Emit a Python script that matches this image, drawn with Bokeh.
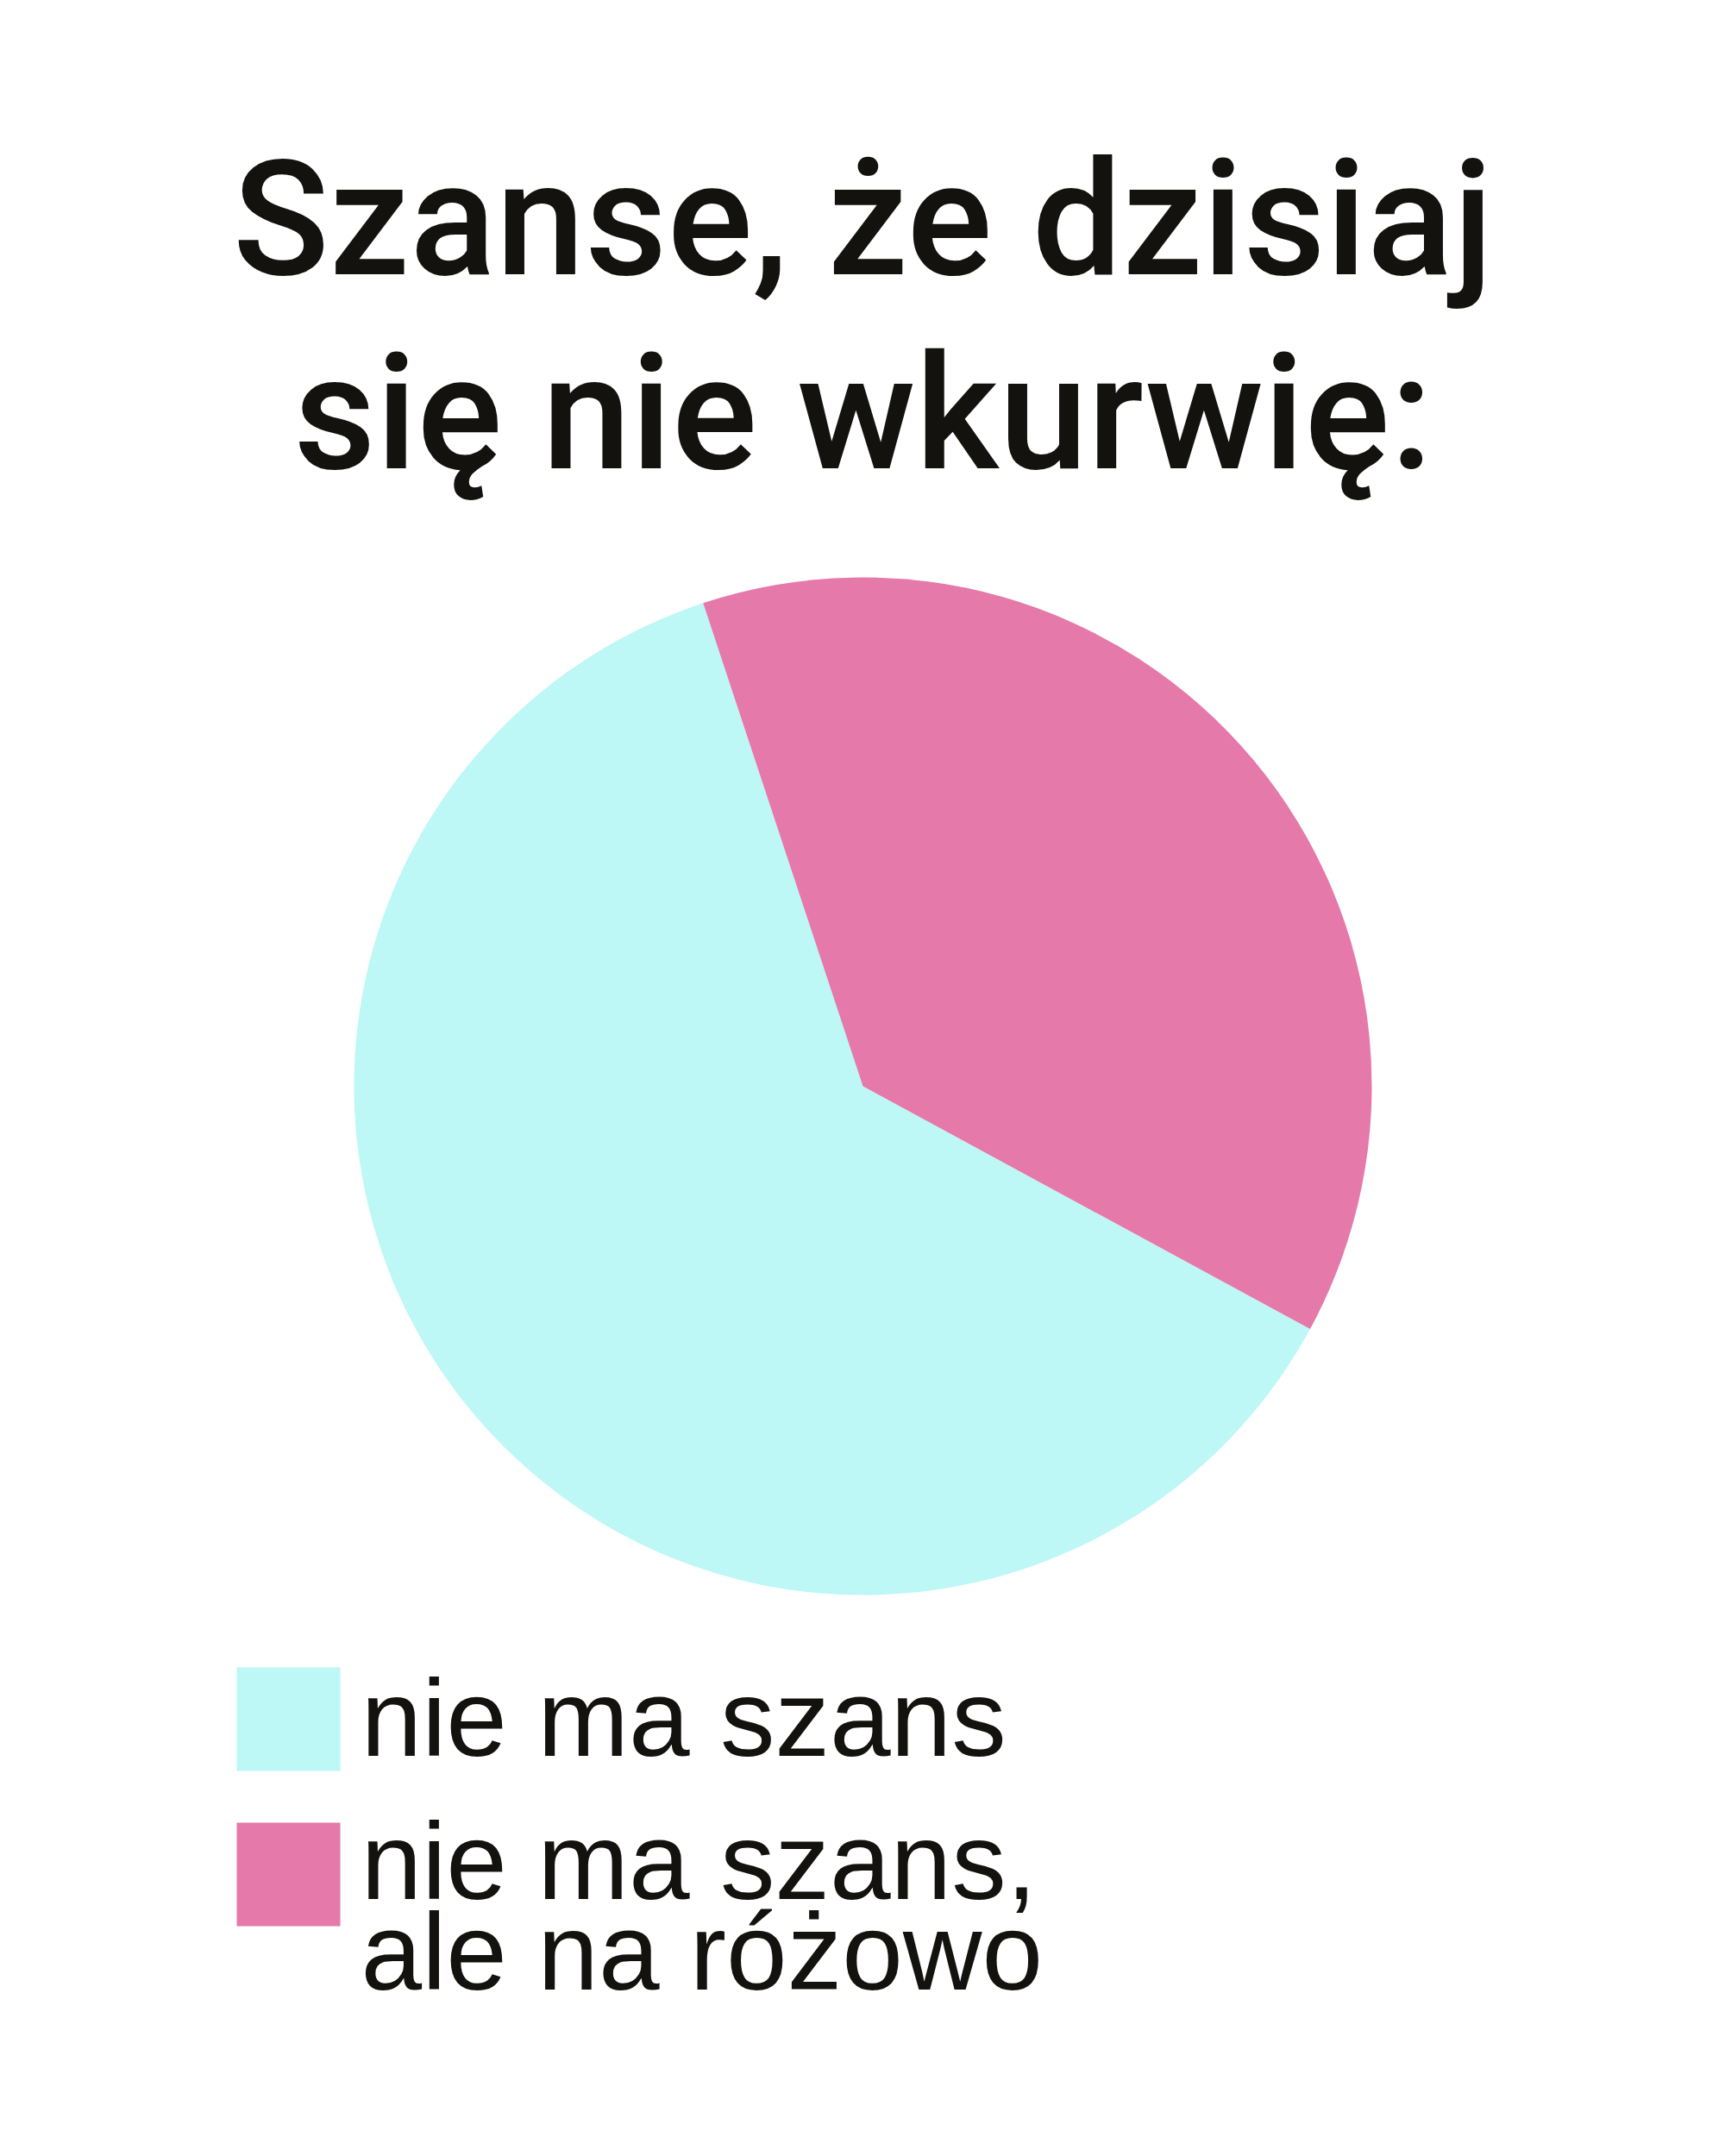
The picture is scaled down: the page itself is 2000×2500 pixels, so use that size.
import math
from bokeh.plotting import figure
from bokeh.models import Range1d, ColumnDataSource
from bokeh.core.properties import value
from bokeh.embed import file_html
from bokeh.resources import INLINE

# ---- data ----
title_lines = ["Szanse, że dzisiaj", "się nie wkurwię:"]
categories = ["nie ma szans", "nie ma szans,\nale na różowo"]
legend_lines = [["nie ma szans"], ["nie ma szans,", "ale na różowo"]]
shares = [62, 38]
colors = ["#BDF7F6", "#E479AA"]

# ---- layout (page pixel coordinates; y data = 2500 - page y) ----
W, H = 1984, 2484
def Y(py):
    return 2500 - py

p = figure(width=W, height=H, output_backend="svg", toolbar_location=None,
           x_range=Range1d(0, W), y_range=Range1d(2500 - H, 2500),
           min_border=0, background_fill_color="white", border_fill_color="white")
p.axis.visible = False
p.grid.visible = False
p.outline_line_color = None

# pie
cx, cy, r = 1000, Y(1259), 590
start0 = math.radians(108.3)
total = sum(shares)
starts, ends = [], []
a = start0
for v in shares:
    starts.append(a)
    a += 2 * math.pi * v / total
    ends.append(a)
src = ColumnDataSource(dict(start=starts, end=ends, color=colors, cat=categories))
p.wedge(x=cx, y=cy, radius=r, start_angle="start", end_angle="end",
        fill_color="color", line_color=None, source=src, direction="anticlock")

txt_color = "#13120E"
BASE_SHIFT = 0.36  # empirical: rendered baseline sits this many em below anchor

# title
t_size = 185
for line, py in zip(title_lines, [321, 546]):
    p.text(x=[1000], y=[Y(py - BASE_SHIFT * t_size)], text=[line],
           text_font=value("Roboto Medium, Liberation Sans"),
           text_font_size=f"{t_size}px", text_align="center", text_baseline="alphabetic",
           text_color=txt_color)

# legend
sq_top = [1933, 2113]
sq_size = 120
baselines = [[2037], [2203, 2308]]
l_size = 127
for i, col in enumerate(colors):
    p.quad(left=[274], right=[274 + sq_size], top=[Y(sq_top[i])], bottom=[Y(sq_top[i] + sq_size)],
           fill_color=col, line_color=None)
    for line, py in zip(legend_lines[i], baselines[i]):
        p.text(x=[418], y=[Y(py - BASE_SHIFT * l_size)], text=[line],
               text_font=value("Liberation Sans"),
               text_font_size=f"{l_size}px", text_align="left", text_baseline="alphabetic",
               text_color=txt_color)

open("out.html", "w").write(file_html(p, INLINE))
